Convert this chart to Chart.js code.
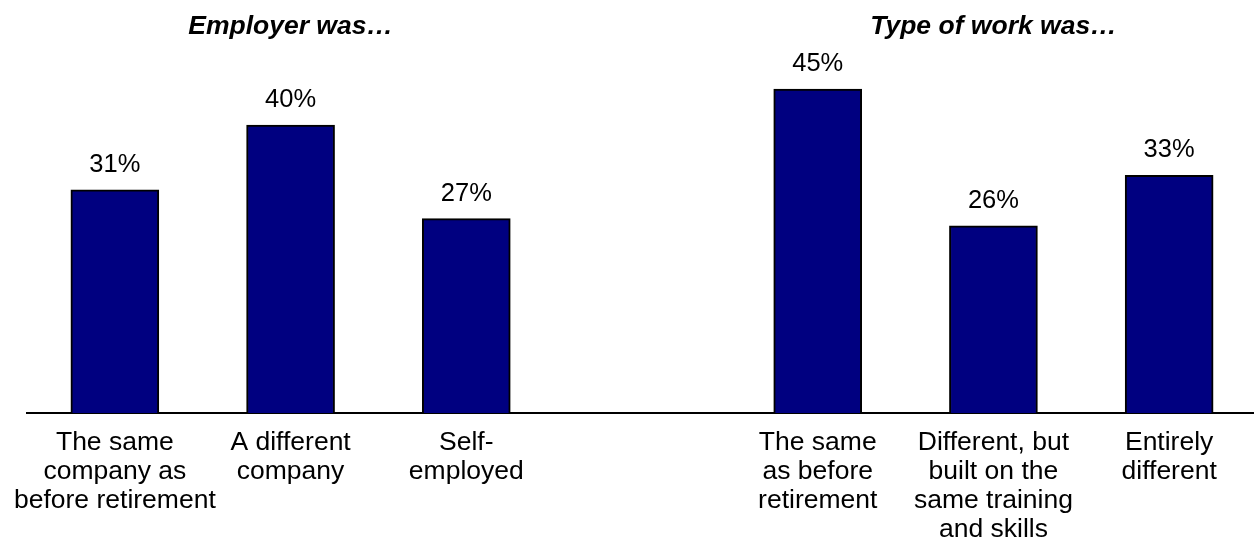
<!DOCTYPE html>
<html>
<head>
<meta charset="utf-8">
<script src="https://cdn.jsdelivr.net/npm/chart.js@4/dist/chart.umd.min.js"></script>
<style>
  html, body { margin: 0; padding: 0; background: #fff; overflow: hidden; }
  #wrap { width: 1258px; height: 546px; }
</style>
</head>
<body>
<div id="wrap"><canvas id="c" width="1258" height="546"></canvas></div>
<script>
// Category labels (multi-line); the empty slot separates the two groups
const categories = [
  ["The same", "company as", "before retirement"],
  ["A different", "company"],
  ["Self-", "employed"],
  "",
  ["The same", "as before", "retirement"],
  ["Different, but", "built on the", "same training", "and skills"],
  ["Entirely", "different"]
];
// Share of respondents, percent
const shares = [31, 40, 27, null, 45, 26, 33];
// Group headings and the category each is centred over
const groupTitles = ["Employer was\u2026", "Type of work was\u2026"];
const groupTitleIndex = [1, 5];

const FONT = "'Liberation Sans', Arial, Helvetica, sans-serif";

const valueLabels = {
  id: 'valueLabels',
  afterDatasetsDraw(chart) {
    const ctx = chart.ctx;
    const meta = chart.getDatasetMeta(0);
    ctx.save();
    ctx.fillStyle = '#000';
    ctx.font = '25.5px ' + FONT;
    ctx.textAlign = 'center';
    ctx.textBaseline = 'alphabetic';
    meta.data.forEach((bar, i) => {
      const v = shares[i];
      if (v === null || v === undefined) return;
      ctx.fillText(v + '%', bar.x, bar.y - 18);
    });
    ctx.restore();
  }
};

const groupHeadings = {
  id: 'groupHeadings',
  afterDraw(chart) {
    const ctx = chart.ctx;
    const xs = chart.scales.x;
    ctx.save();
    ctx.fillStyle = '#000';
    ctx.font = 'italic bold 26.5px ' + FONT;
    ctx.textAlign = 'center';
    ctx.textBaseline = 'alphabetic';
    groupTitles.forEach((t, k) => {
      ctx.fillText(t, xs.getPixelForValue(groupTitleIndex[k]), 34);
    });
    ctx.restore();
  }
};

new Chart(document.getElementById('c'), {
  type: 'bar',
  data: {
    labels: categories,
    datasets: [{
      data: shares,
      backgroundColor: '#000080',
      borderColor: '#000000',
      borderWidth: 2,
      borderSkipped: 'bottom',
      barThickness: 88
    }]
  },
  options: {
    responsive: false,
    animation: false,
    layout: { padding: { left: 27, right: 1, top: 53, bottom: 0 } },
    plugins: {
      legend: { display: false },
      tooltip: { enabled: false },
      title: { display: false }
    },
    scales: {
      x: {
        grid: { display: false, drawTicks: false },
        border: { display: true, color: '#000', width: 2 },
        ticks: {
          color: '#000',
          padding: 15,
          maxRotation: 0,
          autoSkip: false,
          font: { family: FONT, size: 26.5, lineHeight: 29 / 26.5 }
        },
        afterFit(scale) {
          scale.height = 133;
          scale.paddingLeft = 0;
          scale.paddingRight = 0;
        }
      },
      y: {
        display: false,
        min: 0,
        max: 50,
        afterFit(scale) { scale.width = 0; }
      }
    }
  },
  plugins: [valueLabels, groupHeadings]
});
</script>
</body>
</html>
